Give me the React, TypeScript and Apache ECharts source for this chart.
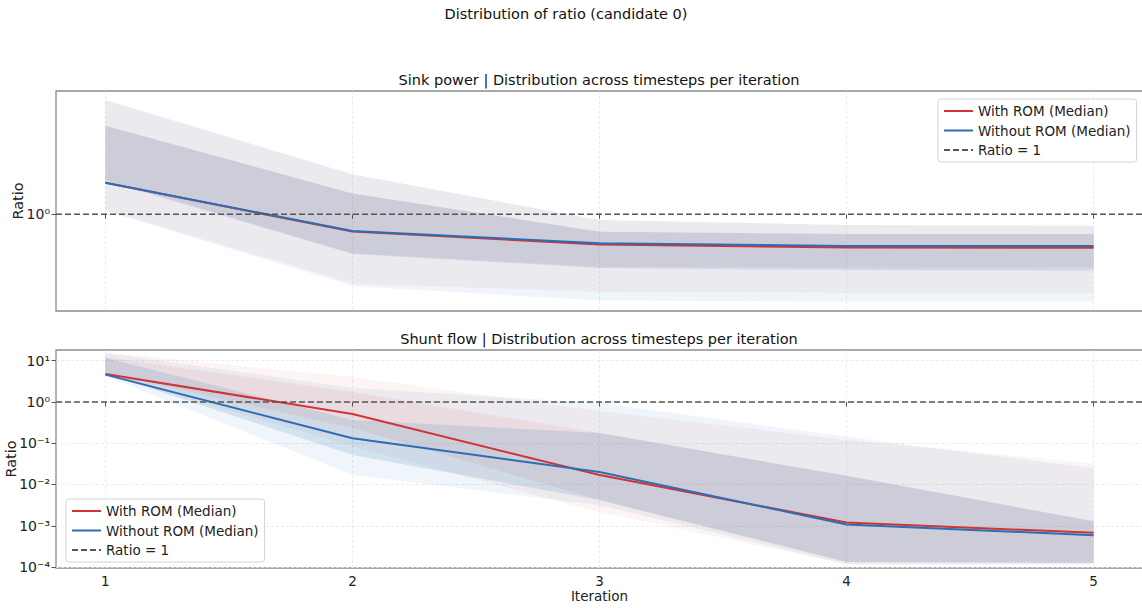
import React, { useEffect, useRef } from 'react';
import * as echarts from 'echarts';

const iterations = [1, 2, 3, 4, 5];
const xTicks = [1, 2, 3, 4, 5];
const xRange = [0.8, 5.2];

// Sink power (ratio values)
const sinkWithMedian = [1.68, 0.753, 0.61, 0.579, 0.577];
const sinkWithoutMedian = [1.68, 0.76, 0.621, 0.594, 0.594];
const sinkWithP5 = [1.073, 0.32, 0.279, 0.275, 0.275];
const sinkWithP25 = [1.76, 0.527, 0.4225, 0.418, 0.418];
const sinkWithP75 = [4.29, 1.41, 0.751, 0.723, 0.723];
const sinkWithP95 = [6.55, 1.93, 0.91, 0.839, 0.829];
const sinkWithoutP5 = [1.056, 0.308, 0.242, 0.2375, 0.2375];
const sinkWithoutP25 = [1.73, 0.52, 0.4135, 0.4, 0.395];
const sinkWithoutP75 = [4.29, 1.41, 0.751, 0.723, 0.723];
const sinkWithoutP95 = [6.55, 1.93, 0.91, 0.839, 0.829];
const sinkYRange = [0.204, 7.6];
const sinkMajorTicks = [1];

// Shunt flow (ratio values)
const shuntWithMedian = [4.78, 0.511, 0.0169, 0.0012, 0.000673];
const shuntWithoutMedian = [4.6, 0.1315, 0.02, 0.001076, 0.000591];
const shuntWithP5 = [4.52, 0.0855, 0.00214, 0.000117, 0.000117];
const shuntWithP25 = [5.05, 0.234, 0.00418, 0.000133, 0.000126];
const shuntWithP75 = [12.4, 1.75, 0.177, 0.01626, 0.00129];
const shuntWithP95 = [15.9, 4.04, 0.605, 0.1196, 0.0325];
const shuntWithoutP5 = [4.28, 0.0169, 0.00316, 0.000117, 0.000117];
const shuntWithoutP25 = [4.92, 0.0517, 0.00418, 0.000133, 0.000126];
const shuntWithoutP75 = [11.7, 0.366, 0.177, 0.01626, 0.00129];
const shuntWithoutP95 = [15.5, 2.19, 0.946, 0.1438, 0.0246];
const shuntYRange = [9.46e-5, 18.2];
const shuntMajorTicks = [1e-4, 1e-3, 1e-2, 1e-1, 1, 10];

const refRatio = 1;

const NAME_WITH = 'With ROM (Median)';
const NAME_WITHOUT = 'Without ROM (Median)';
const NAME_REF = 'Ratio = 1';

const RED = '#cf3434';
const BLUE = '#2c6db5';
const RED_OUTER = 'rgba(214,39,40,0.05)';
const RED_INNER = 'rgba(214,39,40,0.08)';
const BLUE_OUTER = 'rgba(31,119,180,0.07)';
const BLUE_INNER = 'rgba(31,119,180,0.14)';
const FONT = 'DejaVu Sans';

const lg = (arr: number[]) => arr.map((v) => Math.log10(v));

const SUP: Record<string, string> = {
  '0': '⁰', '1': '¹', '2': '²', '3': '³', '4': '⁴', '5': '⁵',
  '6': '⁶', '7': '⁷', '8': '⁸', '9': '⁹', '-': '⁻',
};
const powLabel = (v: number) => {
  const e = String(Math.round(v));
  return '10' + e.split('').map((c) => SUP[c] || c).join('');
};

function minorTicks(lo: number, hi: number) {
  const out: number[] = [];
  for (let n = Math.floor(lo) - 1; n <= Math.ceil(hi); n++) {
    for (let k = 2; k <= 9; k++) {
      const v = n + Math.log10(k);
      if (v > lo && v < hi) out.push(v);
    }
  }
  return out;
}

function band(name: string, grid: number, lo: number[], hi: number[], color: string) {
  const loL = lg(lo);
  const hiL = lg(hi);
  return {
    type: 'custom',
    name,
    xAxisIndex: grid,
    yAxisIndex: grid * 2,
    silent: true,
    z: 1,
    data: iterations.map((x, i) => [x, loL[i], hiL[i]]),
    encode: { x: 0, y: [1, 2] },
    renderItem: (params: any, api: any) => {
      if (params.dataIndex !== 0) return { type: 'group', children: [] };
      const top = iterations.map((x, i) => api.coord([x, hiL[i]]));
      const bot = iterations.map((x, i) => api.coord([x, loL[i]])).reverse();
      return {
        type: 'polygon',
        shape: { points: top.concat(bot) },
        style: { fill: color, stroke: null },
      };
    },
  };
}

function medianLine(name: string, grid: number, vals: number[], color: string, z: number) {
  const v = lg(vals);
  return {
    type: 'line',
    name,
    xAxisIndex: grid,
    yAxisIndex: grid * 2,
    data: iterations.map((x, i) => [x, v[i]]),
    symbol: 'none',
    showSymbol: false,
    z,
    lineStyle: { color, width: 2 },
    itemStyle: { color },
  };
}

function refLine(grid: number) {
  return {
    type: 'line',
    name: NAME_REF,
    xAxisIndex: grid,
    yAxisIndex: grid * 2,
    data: [[xRange[0], Math.log10(refRatio)], [xRange[1], Math.log10(refRatio)]],
    symbol: 'none',
    showSymbol: false,
    z: 10,
    lineStyle: { color: '#555555', width: 1.5, type: [6, 3] },
    itemStyle: { color: '#555555' },
  };
}

const axisGrey = '#555555';

function xAxisCfg(grid: number, showLabels: boolean) {
  return {
    type: 'value',
    gridIndex: grid,
    min: xRange[0],
    max: xRange[1],
    axisLine: { show: false },
    axisTick: { show: true, customValues: xTicks, length: 4.5, lineStyle: { color: axisGrey, width: 1 } },
    axisLabel: {
      show: showLabels,
      customValues: xTicks,
      fontSize: 13.5,
      color: '#222',
      fontFamily: FONT,
      margin: 6,
    },
    splitLine: { show: true, lineStyle: { color: '#e6e6e6', type: [3, 2], width: 0.8 } },
    name: showLabels ? 'Iteration' : '',
    nameLocation: 'middle',
    nameGap: 21,
    nameMoveOverlap: false,
    nameTextStyle: { fontSize: 13.5, color: '#222', fontFamily: FONT },
  };
}

function yMain(grid: number, range: number[], majors: number[], gridLines: boolean, nameGap: number) {
  return {
    type: 'value',
    gridIndex: grid,
    min: Math.log10(range[0]),
    max: Math.log10(range[1]),
    axisLine: { show: false },
    axisTick: { show: true, customValues: lg(majors), length: 4.5, lineStyle: { color: axisGrey, width: 1 } },
    axisLabel: {
      customValues: lg(majors),
      formatter: (v: number) => powLabel(v),
      fontSize: 14,
      color: '#222',
      fontFamily: FONT,
      margin: 6,
    },
    splitLine: { show: gridLines, lineStyle: { color: '#e6e6e6', type: [3, 2], width: 0.8 } },
    name: 'Ratio',
    nameLocation: 'middle',
    nameGap,
    nameMoveOverlap: false,
    nameRotate: 90,
    nameTextStyle: { fontSize: 14.5, color: '#222', fontFamily: FONT },
  };
}

function yMinor(grid: number, range: number[]) {
  const lo = Math.log10(range[0]);
  const hi = Math.log10(range[1]);
  return {
    type: 'value',
    gridIndex: grid,
    min: lo,
    max: hi,
    axisLine: { show: false },
    axisTick: { show: true, customValues: minorTicks(lo, hi), length: 2.5, lineStyle: { color: axisGrey, width: 0.8 } },
    axisLabel: { show: false },
    splitLine: { show: false },
  };
}

function legendCfg(left: number, top: number) {
  return {
    orient: 'vertical',
    left,
    top,
    data: [NAME_WITH, NAME_WITHOUT, NAME_REF],
    itemWidth: 29,
    itemHeight: 14,
    itemGap: 5.5,
    padding: [5, 6, 5, 5],
    backgroundColor: 'rgba(255,255,255,0.85)',
    borderColor: '#d4d4d4',
    borderWidth: 1,
    borderRadius: 3,
    selectedMode: false,
    itemStyle: { opacity: 0 },
    textStyle: { fontSize: 13.5, color: '#222', fontFamily: FONT },
  };
}

export default function App() {
  const ref = useRef<HTMLDivElement>(null);
  useEffect(() => {
    if (!ref.current) return;
    const chart = echarts.init(ref.current, null, { renderer: 'svg' });
    const gridBase = { show: true, borderColor: '#8c8c8c', borderWidth: 1.3, containLabel: false, outerBoundsMode: 'none' };
    const titleStyle = { font: `14.5px "${FONT}"`, fill: '#111', align: 'center', verticalAlign: 'middle', textAlign: 'center', textVerticalAlign: 'middle' };
    const option = {
      animation: false,
      textStyle: { fontFamily: FONT },
      grid: [
        { ...gridBase, left: 56, top: 91, width: 1087, height: 220 },
        { ...gridBase, left: 56, top: 350, width: 1087, height: 218 },
      ],
      xAxis: [xAxisCfg(0, false), xAxisCfg(1, true)],
      yAxis: [
        yMain(0, sinkYRange, sinkMajorTicks, false, 31),
        yMinor(0, sinkYRange),
        yMain(1, shuntYRange, shuntMajorTicks, true, 38),
        yMinor(1, shuntYRange),
      ],
      legend: [legendCfg(938, 99), legendCfg(66, 499)],
      graphic: [
        { type: 'text', x: 566, y: 14, style: { ...titleStyle, text: 'Distribution of ratio (candidate 0)' } },
        { type: 'text', x: 599, y: 80, style: { ...titleStyle, text: 'Sink power | Distribution across timesteps per iteration' } },
        { type: 'text', x: 599, y: 339, style: { ...titleStyle, text: 'Shunt flow | Distribution across timesteps per iteration' } },
      ],
      series: [
        band('sink-with-outer', 0, sinkWithP5, sinkWithP95, RED_OUTER),
        band('sink-with-inner', 0, sinkWithP25, sinkWithP75, RED_INNER),
        band('sink-without-outer', 0, sinkWithoutP5, sinkWithoutP95, BLUE_OUTER),
        band('sink-without-inner', 0, sinkWithoutP25, sinkWithoutP75, BLUE_INNER),
        medianLine(NAME_WITH, 0, sinkWithMedian, RED, 5),
        medianLine(NAME_WITHOUT, 0, sinkWithoutMedian, BLUE, 6),
        refLine(0),
        band('shunt-with-outer', 1, shuntWithP5, shuntWithP95, RED_OUTER),
        band('shunt-with-inner', 1, shuntWithP25, shuntWithP75, RED_INNER),
        band('shunt-without-outer', 1, shuntWithoutP5, shuntWithoutP95, BLUE_OUTER),
        band('shunt-without-inner', 1, shuntWithoutP25, shuntWithoutP75, BLUE_INNER),
        medianLine(NAME_WITH, 1, shuntWithMedian, RED, 5),
        medianLine(NAME_WITHOUT, 1, shuntWithoutMedian, BLUE, 6),
        refLine(1),
      ],
    };
    chart.setOption(option as any);
    return () => chart.dispose();
  }, []);
  return (
    <div
      ref={ref}
      style={{ position: 'fixed', left: 0, top: 0, width: 1142, height: 608, background: '#fff' }}
    />
  );
}
